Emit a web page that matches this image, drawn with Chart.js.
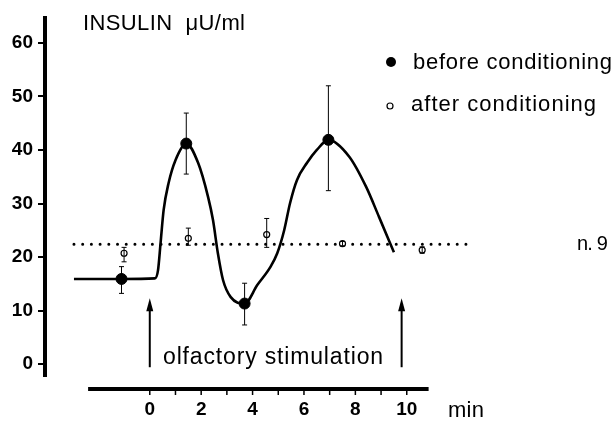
<!DOCTYPE html>
<html>
<head>
<meta charset="utf-8">
<script src="https://cdn.jsdelivr.net/npm/chart.js@4/dist/chart.umd.min.js"></script>
<style>
  html, body { margin: 0; padding: 0; background: #fff; }
  #c { display: block; }
</style>
</head>
<body>
<canvas id="c" width="615" height="423"></canvas>
<script>
// insulin, before conditioning (mean, error bar ends)
var beforeX  = [-1.1, 1.42, 3.69, 6.95];
var beforeY  = [15.9, 41.2, 11.3, 41.9];
var beforeLo = [13.2, 35.5, 7.3, 32.4];
var beforeHi = [18.2, 46.9, 15.1, 52.0];

// insulin, after conditioning
var afterX  = [-1.0, 1.5, 4.55, 7.5, 10.6];
var afterY  = [20.7, 23.5, 24.2, 22.5, 21.3];
var afterLo = [19.1, 22.2, 21.8, 22.1, 20.7];
var afterHi = [21.8, 25.4, 27.2, 22.9, 21.9];

// hand-drawn response curve through the "before" means
var curveX = [-2.95, -1.1, 0.2, 0.32, 0.42, 0.54, 0.73, 1.0, 1.42, 1.88, 2.27, 2.46, 2.65, 2.85, 3.15, 3.69, 4.19, 4.69, 4.96, 5.23, 5.46, 5.73, 6.12, 6.5, 6.95, 7.77, 8.42, 8.92, 9.5];
var curveY = [15.9, 15.9, 16.0, 17.5, 22.6, 28.8, 33.8, 38.1, 41.2, 37.6, 31.2, 26.9, 20.7, 15.7, 12.5, 11.3, 14.8, 18.1, 20.7, 25.0, 30.1, 34.4, 37.6, 40.0, 41.9, 38.7, 33.1, 27.5, 20.9];

// dotted level of the "after" series
var levelX = [-2.95, 12.5];
var levelY = 22.4;

// stimulation window (arrows), in min and in µU/ml
var arrowX = [0, 9.8];
var arrowFrom = -0.6;
var arrowTo = 12.3;

var yTicks = [0, 10, 20, 30, 40, 50, 60];
var xTicks = [0, 1, 2, 3, 4, 5, 6, 7, 8, 9, 10];
var xTickLabels = ['0', '', '2', '', '4', '', '6', '', '8', '', '10'];
var xAxisSpan = [-2.4, 10.85];

var FONT = '"Liberation Sans", Arial, sans-serif';

function pts(xs, ys) {
  var out = [];
  for (var i = 0; i < xs.length; i++) out.push({x: xs[i], y: ys[i]});
  return out;
}

function errPts(xs, lo, hi) {
  var out = [];
  for (var i = 0; i < xs.length; i++) {
    out.push({x: xs[i], y: lo[i]});
    out.push({x: xs[i], y: hi[i]});
    out.push({x: xs[i], y: NaN});
  }
  return out;
}

// text spread to a given width by letter spacing
function fitText(ctx, str, x, y, size, width) {
  ctx.font = size + 'px ' + FONT;
  ctx.letterSpacing = '0px';
  var w = ctx.measureText(str).width;
  var sp = (width - w) / Math.max(1, str.length - 1);
  ctx.letterSpacing = sp.toFixed(2) + 'px';
  ctx.textAlign = 'left';
  ctx.textBaseline = 'alphabetic';
  ctx.fillText(str, x, y);
  ctx.letterSpacing = '0px';
}

var decor = {
  id: 'decor',
  afterDraw: function(chart) {
    var ctx = chart.ctx;
    var xs = chart.scales.x, ys = chart.scales.y;
    ctx.save();
    ctx.fillStyle = '#000';
    ctx.strokeStyle = '#000';

    // detached time axis with minute ticks
    var axY = 389;
    ctx.lineWidth = 4;
    ctx.beginPath();
    ctx.moveTo(xs.getPixelForValue(xAxisSpan[0]), axY);
    ctx.lineTo(xs.getPixelForValue(xAxisSpan[1]), axY);
    ctx.stroke();
    ctx.lineWidth = 1.5;
    xTicks.forEach(function(v) {
      var px = xs.getPixelForValue(v);
      ctx.beginPath();
      ctx.moveTo(px, axY);
      ctx.lineTo(px, axY + 6);
      ctx.stroke();
    });

    // stimulation arrows
    arrowX.forEach(function(v) {
      var px = xs.getPixelForValue(v);
      var y0 = ys.getPixelForValue(arrowFrom);
      var y1 = ys.getPixelForValue(arrowTo);
      ctx.lineWidth = 2;
      ctx.beginPath();
      ctx.moveTo(px, y0);
      ctx.lineTo(px, y1 + 10);
      ctx.stroke();
      ctx.beginPath();
      ctx.moveTo(px, y1);
      ctx.lineTo(px - 3.5, y1 + 13);
      ctx.lineTo(px + 3.5, y1 + 13);
      ctx.closePath();
      ctx.fill();
    });

    // legend
    ctx.beginPath();
    ctx.arc(391, 62, 5, 0, Math.PI * 2);
    ctx.fill();
    ctx.lineWidth = 1.2;
    ctx.beginPath();
    ctx.arc(390, 106, 3, 0, Math.PI * 2);
    ctx.stroke();

    fitText(ctx, 'INSULIN  \u03bcU/ml', 83, 30, 22, 162);
    fitText(ctx, 'before conditioning', 413, 69, 22, 199);
    fitText(ctx, 'after conditioning', 411, 111, 22, 185);
    fitText(ctx, 'n. 9', 577, 250, 20, 31);
    fitText(ctx, 'olfactory stimulation', 163, 364, 23, 220);
    fitText(ctx, 'min', 448, 417, 22, 36);
    ctx.restore();
  }
};

new Chart(document.getElementById('c'), {
  type: 'scatter',
  data: {
    datasets: [
      {
        type: 'line',
        data: errPts(beforeX, beforeLo, beforeHi).concat(errPts(afterX, afterLo, afterHi)),
        borderColor: '#000',
        borderWidth: 1,
        pointStyle: 'line',
        pointRadius: 2.5,
        pointBorderWidth: 1,
        pointBorderColor: '#000',
        spanGaps: false,
        order: 0
      },
      {
        data: pts(beforeX, beforeY),
        pointRadius: 5.5,
        pointBackgroundColor: '#000',
        pointBorderColor: '#000',
        order: 1
      },
      {
        data: pts(afterX, afterY),
        pointRadius: 3,
        pointBackgroundColor: '#fff',
        pointBorderColor: '#000',
        pointBorderWidth: 1.2,
        order: 1
      },
      {
        type: 'line',
        data: pts(curveX, curveY),
        borderColor: '#000',
        borderWidth: 2.6,
        pointRadius: 0,
        cubicInterpolationMode: 'monotone',
        order: 2
      },
      {
        type: 'line',
        data: pts(levelX, [levelY, levelY]),
        borderColor: '#000',
        borderWidth: 3,
        borderCapStyle: 'round',
        borderDash: [0.01, 8.7],
        pointRadius: 0,
        order: 3
      }
    ]
  },
  options: {
    responsive: false,
    animation: false,
    devicePixelRatio: 1,
    layout: { padding: { top: 18, right: 0, left: 0, bottom: 0 } },
    plugins: { legend: { display: false }, tooltip: { enabled: false } },
    scales: {
      x: {
        type: 'linear',
        min: -4.077,
        max: 17.85,
        afterFit: function(s) { s.height = 47; },
        afterBuildTicks: function(s) { s.ticks = xTicks.map(function(v) { return {value: v}; }); },
        grid: { display: false, drawTicks: false },
        border: { display: false },
        ticks: {
          padding: 22,
          maxRotation: 0,
          autoSkip: false,
          color: '#000',
          font: { family: FONT, size: 19, weight: 'bold' },
          callback: function(v, i) { return xTickLabels[i]; }
        }
      },
      y: {
        min: -2.24,
        max: 64.67,
        afterFit: function(s) { s.width = 45; },
        afterBuildTicks: function(s) { s.ticks = yTicks.map(function(v) { return {value: v}; }); },
        grid: { drawOnChartArea: false, drawTicks: true, tickLength: 7, color: '#000', lineWidth: 2 },
        border: { display: true, color: '#000', width: 4 },
        ticks: {
          padding: 5,
          color: '#000',
          font: { family: FONT, size: 19, weight: 'bold' }
        }
      }
    }
  },
  plugins: [decor]
});
</script>
</body>
</html>
